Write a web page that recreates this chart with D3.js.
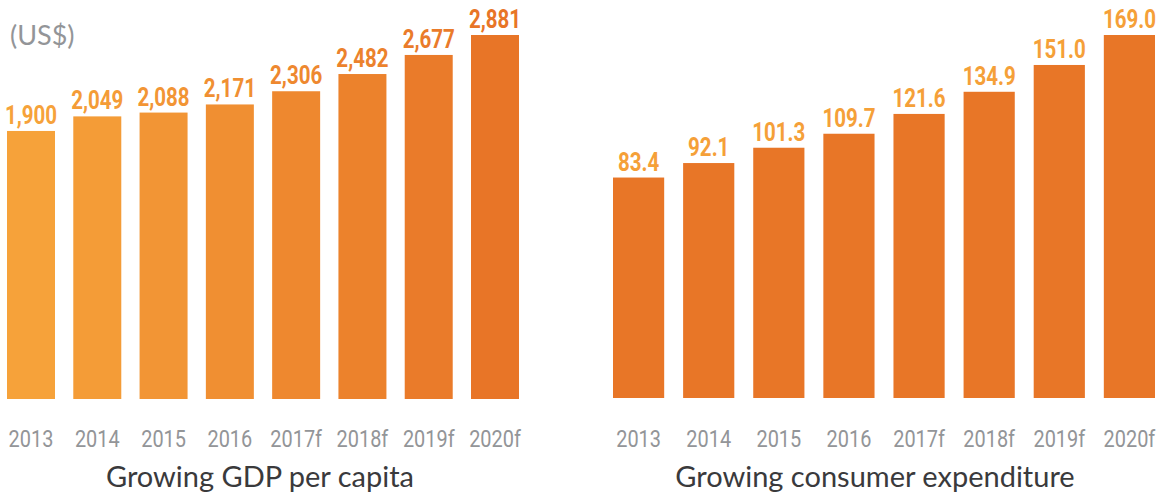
<!DOCTYPE html>
<html>
<head>
<meta charset="utf-8">
<script src="https://cdn.jsdelivr.net/npm/d3@7"></script>
<style>
  html, body { margin: 0; padding: 0; background: #fff; }
  svg { display: block; }
  .val { font-family: Roboto, "DejaVu Sans Condensed", sans-serif; font-weight: bold; font-size: 26px; }
  .tick-lbl { font-family: Roboto, "DejaVu Sans Condensed", sans-serif; font-size: 24px; fill: #939598; }
  .title { font-family: "Lato", "Noto Sans", sans-serif; font-size: 29px; fill: #3a3a3c; }
  .unit { font-family: "Lato", "Noto Sans", sans-serif; font-size: 27px; fill: #939598; }
</style>
</head>
<body>
<svg id="chart" width="1165" height="495"></svg>
<script>
// data
const years = ["2013", "2014", "2015", "2016", "2017f", "2018f", "2019f", "2020f"];
const gdpPerCapita = [1900, 2049, 2088, 2171, 2306, 2482, 2677, 2881];
const consumerExpenditure = [83.4, 92.1, 101.3, 109.7, 121.6, 134.9, 151.0, 169.0];
const gdpTitle = "Growing GDP per capita";
const expTitle = "Growing consumer expenditure";
const gdpUnit = "(US$)";

const svg = d3.select("#chart");

function drawPanel(opts){
    const g = svg.append("g");
    const x = d3.scaleBand()
        .domain(years)
        .range([opts.x0, opts.x1])
        .paddingInner(opts.pad)
        .paddingOuter(0);
    const y = d3.scaleLinear()
        .domain([opts.yMin, d3.max(opts.values)])
        .range([opts.bottom, 35]);

    const data = years.map((k, i) => ({year: k, value: opts.values[i], i: i}));

    g.selectAll("rect")
        .data(data)
        .enter().append("rect")
        .attr("x", d => x(d.year))
        .attr("width", x.bandwidth())
        .attr("y", d => y(d.value))
        .attr("height", d => opts.bottom - y(d.value))
        .style("fill", d => opts.barColor(d.i));

    // condensed look: squeeze the glyphs horizontally
    g.selectAll("text.val")
        .data(data)
        .enter().append("text")
        .attr("class", "val")
        .attr("transform", d => "translate(" + (x(d.year) + x.bandwidth() / 2) + "," + (y(d.value) - 7) + ") scale(0.79,1)")
        .attr("text-anchor", "middle")
        .style("fill", d => opts.labelColor(d.i))
        .text(d => opts.fmt(d.value));

    g.selectAll("text.tick-lbl")
        .data(data)
        .enter().append("text")
        .attr("class", "tick-lbl")
        .attr("transform", d => "translate(" + (x(d.year) + x.bandwidth() / 2) + ",447) scale(0.83,1)")
        .attr("text-anchor", "middle")
        .text(d => d.year);

    g.append("text")
        .attr("class", "title")
        .attr("x", opts.titleX)
        .attr("y", 487)
        .attr("text-anchor", "middle")
        .text(opts.title);
}

// left bars fade from light to deep orange
const leftColor = i => d3.interpolateRgb("#f6a23a", "#e87527")(i / (years.length - 1));

drawPanel({
    values: gdpPerCapita, x0: 7, x1: 519, pad: 0.276, yMin: -840, bottom: 399,
    fmt: d3.format(","), barColor: leftColor, labelColor: leftColor,
    title: gdpTitle, titleX: 260
});

drawPanel({
    values: consumerExpenditure, x0: 613, x1: 1155, pad: 0.27, yMin: -49, bottom: 398,
    fmt: d3.format(".1f"), barColor: () => "#e87627", labelColor: () => "#f5a038",
    title: expTitle, titleX: 875
});

svg.append("text")
    .attr("class", "unit")
    .attr("x", 10)
    .attr("y", 45)
    .text(gdpUnit);
</script>
</body>
</html>
